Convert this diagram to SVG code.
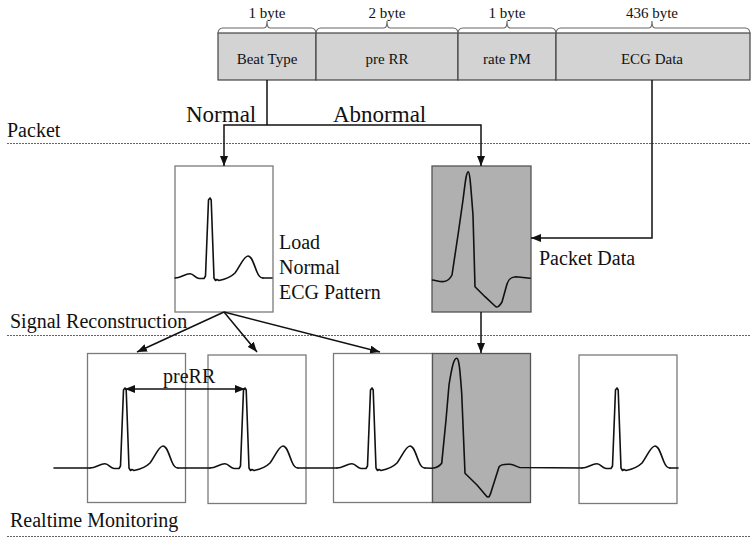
<svg xmlns="http://www.w3.org/2000/svg" xmlns:xlink="http://www.w3.org/1999/xlink" width="756" height="543" viewBox="0 0 756 543">
<style>
text{font-family:"Liberation Serif","Times New Roman",serif;fill:#111}
.t15{font-size:15px}
.t20{font-size:20px}
.t23{font-size:23px}
.cell{fill:#d3d3d3;stroke:#444;stroke-width:1.2}
.brace{fill:none;stroke:#666;stroke-width:1.1}
.box{fill:#fff;stroke:#7a7a7a;stroke-width:1.3}
.gbox{fill:#b0b0b0;stroke:#555;stroke-width:1.3}
.wave{fill:none;stroke:#111;stroke-width:1.6;stroke-linejoin:round;stroke-linecap:round}
.dash{stroke:#666;stroke-width:1;stroke-dasharray:2,1;fill:none}
.conn{fill:none;stroke:#111;stroke-width:1.5}
</style>
<defs>
<marker id="ah" viewBox="0 0 10 8" refX="10" refY="4" markerUnits="userSpaceOnUse" markerWidth="10" markerHeight="8" orient="auto-start-reverse">
<path d="M0,0 L10,4 L0,8 z" fill="#111"/>
</marker>
<path id="beat" d="M -35,0 C -29,0 -25,-4.5 -20,-4.3 C -16,-4 -15,0 -11,0.5 L -6,0.5 L -4.5,-2 L -1.5,-78 L 0,-80 L 1.2,-78 L 4,0 L 5.5,2.5 L 7,1.5 L 9,2.5 C 14,1.5 20,0 25,-5 C 30,-12 34,-22 38,-22 C 42,-22 44,-13 47,-6 C 49,-1 51,0 53,0"/>
</defs>

<!-- section separators -->
<g id="separators">
<line class="dash" x1="7" y1="143.5" x2="750" y2="143.5"/>
<line class="dash" x1="7" y1="335.5" x2="750" y2="335.5"/>
<line class="dash" x1="7" y1="536.5" x2="750" y2="536.5"/>
<text class="t20" x="7" y="137">Packet</text>
<text class="t20" x="10" y="328">Signal Reconstruction</text>
<text class="t20" x="10" y="527">Realtime Monitoring</text>
</g>

<!-- packet table -->
<g id="packet">
<g id="cell-beattype">
<rect class="cell" x="218" y="33" width="98" height="47"/>
<path class="brace" d="M218,34 Q218,28 223,28 L264,28 Q267,28 267,21 Q267,28 270,28 L311,28 Q316,28 316,34"/>
<text class="t15" x="267" y="18" text-anchor="middle">1 byte</text>
<text class="t15" x="267" y="64" text-anchor="middle">Beat Type</text>
</g>
<g id="cell-prerr">
<rect class="cell" x="316" y="33" width="142" height="47"/>
<path class="brace" d="M316,34 Q316,28 321,28 L384,28 Q387,28 387,21 Q387,28 390,28 L453,28 Q458,28 458,34"/>
<text class="t15" x="387" y="18" text-anchor="middle">2 byte</text>
<text class="t15" x="387" y="64" text-anchor="middle">pre RR</text>
</g>
<g id="cell-ratepm">
<rect class="cell" x="458" y="33" width="98" height="47"/>
<path class="brace" d="M458,34 Q458,28 463,28 L504,28 Q507,28 507,21 Q507,28 510,28 L551,28 Q556,28 556,34"/>
<text class="t15" x="507" y="18" text-anchor="middle">1 byte</text>
<text class="t15" x="507" y="64" text-anchor="middle">rate PM</text>
</g>
<g id="cell-ecgdata">
<rect class="cell" x="556" y="33" width="194" height="47"/>
<path class="brace" d="M556,34 Q556,28 561,28 L649,28 Q652,28 652,21 Q652,28 655,28 L745,28 Q750,28 750,34"/>
<text class="t15" x="652" y="18" text-anchor="middle">436 byte</text>
<text class="t15" x="652" y="64" text-anchor="middle">ECG Data</text>
</g>
</g>

<!-- reconstruction nodes -->
<g id="normal-pattern">
<rect class="box" x="175" y="166" width="98" height="146"/>
<use href="#beat" class="wave" transform="translate(210,278)"/>
<path class="wave" d="M263,278 L272,278"/>
<text class="t20" x="279" y="249">Load</text>
<text class="t20" x="279" y="274">Normal</text>
<text class="t20" x="279" y="299">ECG Pattern</text>
</g>
<g id="packet-data">
<rect class="gbox" x="432" y="166" width="99" height="146"/>
<path class="wave" d="M432.5,280 C438,281 441,282 444,281.5 C448,281 450,279 452,275 L458,235 L463,200 C465,185 466,172 468.3,171.7 C470,172 471,190 473,215 L475,286.7 L485,296.7 L495,306 C497,308 499,307 502,302 L507,284 C509,278 512,277 516,276.7 L530,278.3"/>
<text class="t20" x="539" y="265">Packet Data</text>
</g>

<!-- realtime monitoring nodes -->
<g id="monitor-1"><rect class="box" x="87.5" y="353.5" width="98" height="149"/></g>
<g id="monitor-2"><rect class="box" x="208" y="355" width="98" height="148.5"/></g>
<g id="monitor-3"><rect class="box" x="333.5" y="353.5" width="99" height="149"/></g>
<g id="monitor-4"><rect class="gbox" x="432.5" y="353.5" width="98" height="149"/></g>
<g id="monitor-5"><rect class="box" x="579" y="355" width="98" height="148.5"/></g>

<g id="signal">
<path class="wave" d="M54,468 L90,468"/>
<use href="#beat" class="wave" transform="translate(125,468)"/>
<path class="wave" d="M178,468 L210,468"/>
<use href="#beat" class="wave" transform="translate(245,468)"/>
<path class="wave" d="M298,468 L337,468"/>
<use href="#beat" class="wave" transform="translate(372,468)"/>
<path class="wave" d="M425,468 L432,468.3 C436,468 439,467 441.7,463.3 L446,420 L449,385 C452,366 454,358 456.7,358.3 C459,358 460,370 461.7,393.3 L465,473.3 L477,485 L487,496.7 C489,498 490,496 492,489 L499,467 C501,464 505,464 510,464.3 C514,464.5 517,467 520,467.5 L582,468"/>
<use href="#beat" class="wave" transform="translate(617,468)"/>
<path class="wave" d="M670,468 L678,468"/>
<text class="t20" x="163" y="383">preRR</text>
</g>

<!-- connectors -->
<g id="connectors">
<path class="conn" d="M267,80 L267,125"/>
<path class="conn" d="M224,166 L224,125 L481,125 L481,166" marker-start="url(#ah)" marker-end="url(#ah)"/>
<path class="conn" d="M652,80 L652,238 L531,238" marker-end="url(#ah)"/>
<path class="conn" d="M481,312 L481,353" marker-end="url(#ah)"/>
<path class="conn" d="M224,312 L137,352" marker-end="url(#ah)"/>
<path class="conn" d="M224,312 L257,352" marker-end="url(#ah)"/>
<path class="conn" d="M224,312 L380,352" marker-end="url(#ah)"/>
<path class="conn" d="M125,389 L245,389" marker-start="url(#ah)" marker-end="url(#ah)"/>
<text class="t23" x="186" y="122">Normal</text>
<text class="t23" x="333" y="122">Abnormal</text>
</g>
</svg>
